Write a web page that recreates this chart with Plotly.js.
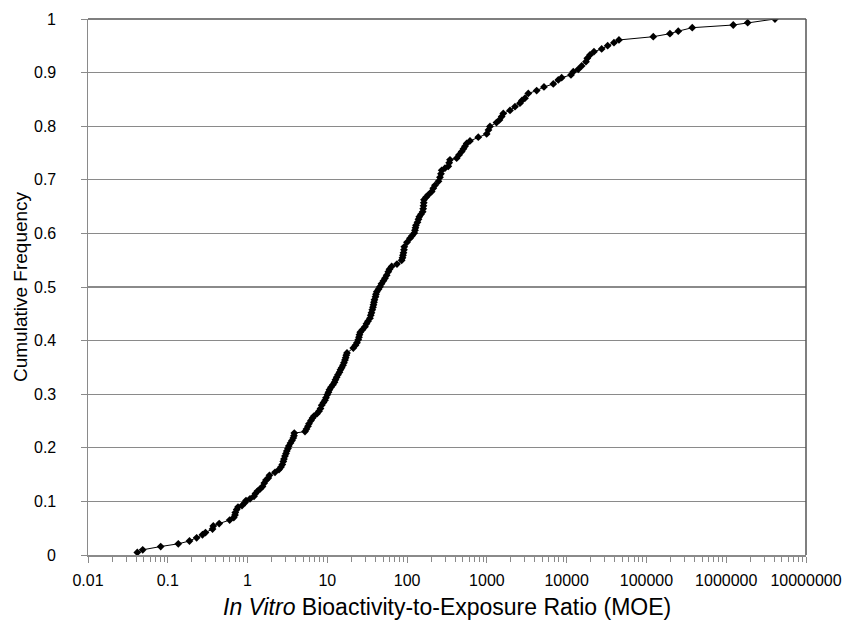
<!DOCTYPE html>
<html><head><meta charset="utf-8">
<script src="https://cdn.plot.ly/plotly-3.0.1.min.js"></script>
<style>html,body{margin:0;padding:0;background:#fff}#chart{width:844px;height:625px}</style>
</head><body><div id="chart"></div>
<script>
// In vitro bioactivity-to-exposure ratio (MOE), sorted ascending
const moe = [
0.0415,0.0485,0.0815,0.1355,0.187,0.230,0.272,0.297,0.364,0.372,
0.441,0.597,0.672,0.696,0.702,0.731,0.759,0.852,0.929,0.956,
1.073,1.204,1.257,1.332,1.431,1.539,1.621,1.702,1.819,1.883,
2.208,2.477,2.624,2.725,2.805,2.862,2.946,3.032,3.103,3.212,
3.287,3.452,3.605,3.743,3.819,3.853,5.246,5.478,5.72,5.89,
6.24,6.52,6.80,7.42,7.86,8.21,8.50,8.95,9.35,9.62,
9.99,10.34,10.64,11.11,11.77,12.29,12.65,13.10,13.60,14.20,
14.62,15.13,15.71,16.17,16.64,16.98,17.28,17.64,21.15,22.54,
23.53,24.43,24.92,25.29,25.88,27.58,29.64,30.95,32.32,34.24,
35.04,35.76,36.59,37.34,37.88,38.43,38.99,40.13,40.72,41.67,
43.77,45.70,47.72,50.55,52.79,55.44,58.08,60.12,64.06,74.64,
85.49,87.50,88.77,90.07,91.38,92.16,99.63,108.6,115.1,122.9,
125.5,127.3,129.2,134.9,138.8,142.1,149.2,156.7,159.0,160.4,
161.8,162.7,172.4,184.2,203.2,212.8,223.5,247.3,258.2,265.8,
271.2,298.3,328.1,336.8,344.6,418.1,446.8,483.1,508.9,531.4,
558.1,614.1,780.1,994,1047,1093,1319,1438,1532,1605,
1948,2249,2598,2753,3002,3302,4207,5194,6795,7848,
8657,11320,12100,13980,15420,17460,18130,19600,21990,27460,
32650,39160,45240,121800,197100,250500,375200,1225000,1857000,4082000
];
// Cumulative frequency
const cumFreq = [
0.0047,0.0097,0.0158,0.0209,0.0261,0.0321,0.0378,0.0419,0.0485,0.0541,
0.0587,0.0652,0.0699,0.0746,0.0792,0.0848,0.0895,0.0923,0.0979,0.1016,
0.1048,0.1096,0.1146,0.1193,0.1230,0.1277,0.1342,0.1398,0.1435,0.1486,
0.1543,0.1594,0.1640,0.1687,0.1743,0.1789,0.1845,0.1892,0.1938,0.1985,
0.2032,0.2088,0.2134,0.2185,0.2227,0.2274,0.2302,0.2349,0.2404,0.2451,
0.2507,0.2554,0.2591,0.2637,0.2684,0.2731,0.2796,0.2843,0.2889,0.2936,
0.2992,0.3038,0.3085,0.3131,0.3178,0.3225,0.3271,0.3318,0.3364,0.3411,
0.3458,0.3495,0.3541,0.3588,0.3638,0.3681,0.3728,0.3769,0.3862,0.3914,
0.3961,0.4017,0.4063,0.4110,0.4157,0.4203,0.4259,0.4315,0.4362,0.4418,
0.4473,0.4520,0.4576,0.4623,0.4669,0.4716,0.4762,0.4818,0.4865,0.4911,
0.4958,0.5005,0.5061,0.5116,0.5163,0.5219,0.5284,0.5331,0.5383,0.5428,
0.5499,0.5545,0.5592,0.5638,0.5694,0.5750,0.5834,0.5909,0.5955,0.6006,
0.6058,0.6104,0.6151,0.6207,0.6263,0.6309,0.6356,0.6403,0.6459,0.6514,
0.6570,0.6626,0.6673,0.6720,0.6781,0.6841,0.6897,0.6971,0.7046,0.7111,
0.7176,0.7217,0.7251,0.7316,0.7372,0.7404,0.7465,0.7527,0.7577,0.7624,
0.7679,0.7726,0.7795,0.7856,0.7931,0.7996,0.8067,0.8117,0.8179,0.8238,
0.8295,0.8365,0.8429,0.8481,0.8522,0.8611,0.8664,0.8732,0.8788,0.8863,
0.8906,0.8956,0.9018,0.9062,0.9124,0.9204,0.9267,0.9329,0.9390,0.9441,
0.9502,0.9558,0.9609,0.9670,0.9726,0.9773,0.9838,0.9888,0.9931,1.0
];
const xTickValues = [0.01,0.1,1,10,100,1000,10000,100000,1000000,10000000];
const xTickLabels = ["0.01","0.1","1","10","100","1000","10000","100000","1000000","10000000"];
const yTickValues = [0,0.1,0.2,0.3,0.4,0.5,0.6,0.7,0.8,0.9,1];
const yTickLabels = ["0","0.1","0.2","0.3","0.4","0.5","0.6","0.7","0.8","0.9","1"];
const minorMultipliers = [2,3,4,5,6,7,8,9];
const xTitle = '<i>In Vitro</i> Bioactivity-to-Exposure Ratio (MOE)';
const yTitle = 'Cumulative Frequency';

const xMinorTicks = [];
for (let i = 0; i < xTickValues.length - 1; i++) {
  for (const m of minorMultipliers) xMinorTicks.push(xTickValues[i] * m);
}

const axisGray = '#8a8a8a';
const font = 'Liberation Sans, Arial, sans-serif';

const trace = {
  x: moe, y: cumFreq, type: 'scatter', mode: 'lines+markers',
  line: {color: '#000', width: 1},
  marker: {symbol: 'diamond', size: 6, color: '#000'},
  hoverinfo: 'x+y', showlegend: false
};

// y tick labels and axis titles as annotations for precise placement
const annotations = yTickValues.map((v, i) => ({
  xref: 'paper', yref: 'y', x: 0, y: v, xshift: -30, xanchor: 'right', yanchor: 'middle',
  text: yTickLabels[i], showarrow: false, font: {size: 16, family: font, color: '#000'}
}));
annotations.push({
  xref: 'paper', yref: 'paper', x: 0, y: 0.5, xshift: -68, xanchor: 'center', yanchor: 'middle',
  textangle: -90, text: yTitle, showarrow: false, font: {size: 19, family: font, color: '#000'}
});
annotations.push({
  xref: 'paper', yref: 'paper', x: 0.5, y: 0, yshift: -52, xanchor: 'center', yanchor: 'middle',
  text: xTitle, showarrow: false, font: {size: 23, family: font, color: '#000'}
});

const layout = {
  width: 844, height: 625,
  margin: {l: 88, r: 37.5, t: 19, b: 69.5},
  paper_bgcolor: '#fff', plot_bgcolor: '#fff',
  font: {family: font, color: '#000'},
  xaxis: {
    type: 'log', range: [-2, 7],
    tickmode: 'array', tickvals: xTickValues, ticktext: xTickLabels,
    ticks: 'outside', ticklen: 6, tickwidth: 1, tickcolor: axisGray,
    minor: {tickmode: 'array', tickvals: xMinorTicks, ticks: 'outside', ticklen: 5, tickwidth: 1, tickcolor: axisGray, showgrid: false},
    showgrid: false, zeroline: false,
    showline: true, linecolor: axisGray, linewidth: 1.5,
    tickfont: {size: 16, family: font, color: '#000'},
    ticklabelstandoff: 4
  },
  yaxis: {
    range: [0, 1],
    tickmode: 'array', tickvals: yTickValues,
    showticklabels: false,
    ticks: 'outside', ticklen: 6, tickwidth: 1, tickcolor: axisGray,
    showgrid: true, gridcolor: '#8a8a8a', gridwidth: 1.3,
    zeroline: false,
    showline: true, linecolor: axisGray, linewidth: 1.5
  },
  annotations: annotations,
  shapes: [
    {type: 'line', xref: 'paper', yref: 'paper', x0: 0, x1: 1, y0: 1, y1: 1, line: {color: '#555', width: 1.5}},
    {type: 'line', xref: 'paper', yref: 'paper', x0: 1, x1: 1, y0: 0, y1: 1, line: {color: '#555', width: 1.5}}
  ]
};

Plotly.newPlot('chart', [trace], layout, {displayModeBar: false, staticPlot: true});
</script>
</body></html>
